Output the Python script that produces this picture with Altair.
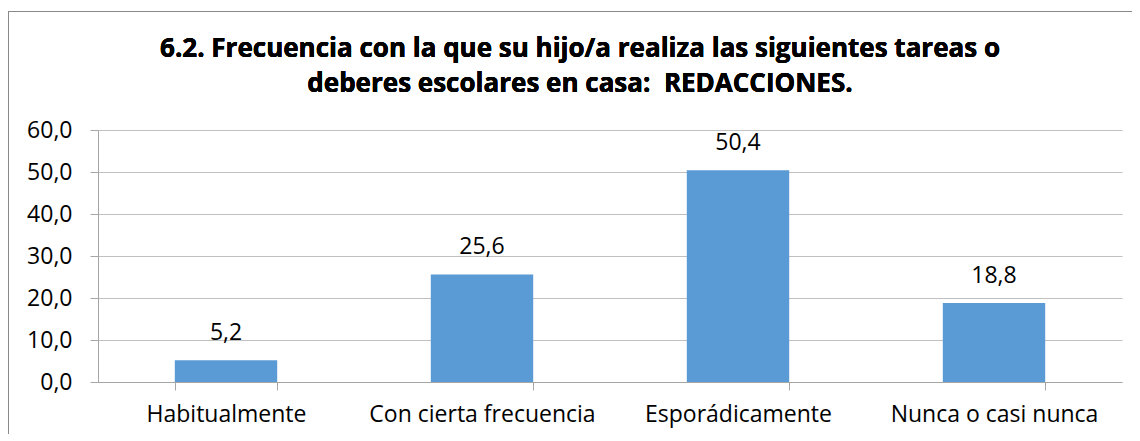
import altair as alt
import pandas as pd

categories = ["Habitualmente", "Con cierta frecuencia", "Esporádicamente", "Nunca o casi nunca"]
values = [5.2, 25.6, 50.4, 18.8]
labels = ["5,2", "25,6", "50,4", "18,8"]
title_lines = ["6.2. Frecuencia con la que su hijo/a realiza las siguientes tareas o",
               "deberes escolares en casa:\u00a0 REDACCIONES."]

df = pd.DataFrame({"cat": categories, "val": values, "lab": labels})

FONT = "Open Sans"
FS = 23
x = alt.X("cat:N", sort=categories, title=None,
          scale=alt.Scale(paddingInner=0.6, paddingOuter=0.3),
          axis=alt.Axis(labelAngle=0, labelFont=FONT, labelFontSize=FS, labelColor="#000000",
                        labelLimit=500,
                        tickBand="extent", tickSize=8, tickColor="#a6a6a6", domainColor="#a6a6a6",
                        labelPadding=13, grid=False))
y = alt.Y("val:Q", title=None,
          scale=alt.Scale(domain=[0, 60], nice=False),
          axis=alt.Axis(values=[0, 10, 20, 30, 40, 50, 60], labelFont=FONT, labelFontSize=FS,
                        labelColor="#000000", tickSize=8, tickColor="#a6a6a6", domainColor="#a6a6a6",
                        gridColor="#c0c0c0", labelPadding=18,
                        labelExpr="replace(format(datum.value, '.1f'), '.', ',')"))

bars = alt.Chart(df).mark_bar(color="#5b9bd5").encode(x=x, y=y)
text = alt.Chart(df).mark_text(font=FONT, fontSize=FS, dy=-20, baseline="alphabetic",
                               color="#000000").encode(
    x=alt.X("cat:N", sort=categories), y="val:Q", text="lab:N")
border = alt.Chart(df).mark_rect(fill=None, stroke="#898989", strokeWidth=1).encode(
    x=alt.value(-89.5), x2=alt.value(1060), y=alt.value(-118.5), y2=alt.value(330))
title = alt.Chart(df).mark_text(text=title_lines, font="Open Sans", fontSize=26, fontWeight="bold",
                                color="#000000", align="center", baseline="alphabetic",
                                lineHeight=35).encode(
    x=alt.value(482), y=alt.value(-73))

chart = alt.layer(border, bars, text, title).properties(
    width=1024, height=252,
    autosize=alt.AutoSizeParams(type="none"),
    padding={"left": 90, "top": 122, "right": 10, "bottom": 52},
).configure_view(stroke=None)

chart.save("out.html", embed_options={"renderer": "svg", "actions": False})
